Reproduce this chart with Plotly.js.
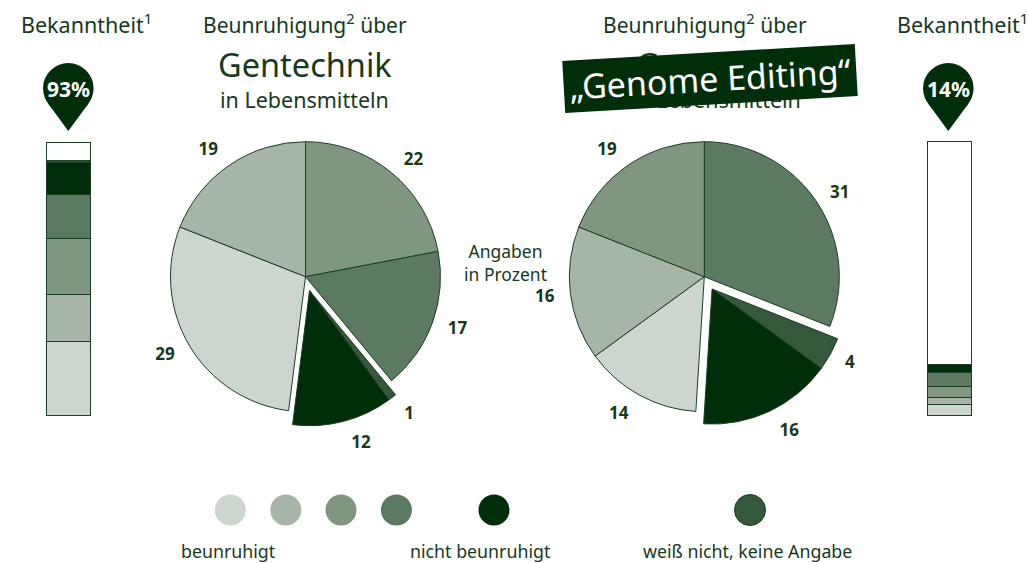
<!DOCTYPE html>
<html><head><meta charset="utf-8">
<script src="https://cdn.plot.ly/plotly-3.0.1.min.js"></script>
<style>body{margin:0;background:#fff}</style></head>
<body><div id="chart" style="width:1029px;height:563px"></div>
<script>
// ---- data ----
const categories = ['beunruhigt 1','beunruhigt 2','beunruhigt 3','beunruhigt 4','nicht beunruhigt','weiß nicht, keine Angabe','nicht bekannt'];
const catColors  = ['#ccd6cf','#a7b5a8','#7f9680','#5c7a61','#002e08','#35573a','#ffffff'];
// pies, clockwise from 12 o'clock (category indices + values in percent)
const pie1Order  = [2,3,5,4,0,1];
const pie1Values = [22,17,1,12,29,19];
const pie2Order  = [3,5,4,0,1,2];
const pie2Values = [31,4,16,14,16,19];
const pulledCats = [4,5];
// awareness bars, stacked from bottom (category order 0..6)
const bar1Values = [27.2,17.2,20.5,15.9,11.8,1.0,6.4];
const bar2Values = [4.1,2.7,4.0,5.2,2.8,0,81.2];
const awareness  = ['93%','14%'];
const legendCats = [0,1,2,3,4,5];
const legendTexts = ['beunruhigt','nicht beunruhigt','weiß nicht, keine Angabe'];

// ---- layout helpers ----
const W = 1029, H = 563;
const FONT = 'Noto Sans, sans-serif';
const TXT = '#15391b';
const LINE = '#1b3f20';
const R = 135;
const RL = 145; // radius of the invisible label ring
const CLEAR = 'rgba(0,0,0,0)';

function pieTraces(values, order, cx, cy, off) {
  const labels = order.map(i => categories[i]);
  const pulled = order.map(i => pulledCats.includes(i));
  const dom = (dx, dy, r) => ({x:[(cx+dx-r)/W,(cx+dx+r)/W], y:[(H-(cy+dy)-r)/H,(H-(cy+dy)+r)/H]});
  const base = {type:'pie', sort:false, direction:'clockwise', rotation:0, labels, values};
  const slices = (show, dx, dy) => Object.assign({}, base, {
    textinfo:'none',
    marker:{colors: order.map((c,k) => show[k] ? catColors[c] : CLEAR),
            line:{color: order.map((c,k) => show[k] ? LINE : CLEAR), width:1}},
    domain: dom(dx, dy, R), hoverinfo:'label+value'
  });
  const ring = (show, dx, dy) => Object.assign({}, base, {
    text: values.map((v,k) => show[k] ? String(v) : ''),
    textinfo:'text', textposition:'outside',
    outsidetextfont:{family:FONT, size:17, color:TXT, weight:'bold'},
    marker:{colors: values.map(() => CLEAR), line:{width:0}},
    domain: dom(dx, dy, RL), hoverinfo:'skip'
  });
  const keep = pulled.map(p => !p);
  return [slices(keep,0,0), slices(pulled,off[0],off[1]), ring(keep,0,0), ring(pulled,off[0],off[1])];
}

const traces = [];
traces.push(...pieTraces(pie1Values, pie1Order, 305.5, 276.7, [4,14]));
traces.push(...pieTraces(pie2Values, pie2Order, 704.3, 276.7, [7.8,12.4]));

[bar1Values, bar2Values].forEach((vals, b) => {
  vals.forEach((v, i) => {
    traces.push({type:'bar', x:[0], y:[v], width:1, name:categories[i],
      xaxis: b ? 'x3':'x2', yaxis: b ? 'y3':'y2',
      marker:{color:catColors[i], line:{color:LINE, width:1}}, hoverinfo:'name+y'});
  });
});

const legX = [230.3,285.8,341,396.4,494,750];
traces.push({type:'scatter', mode:'markers', x:legX, y:legX.map(()=>510),
  text: legendCats.map(i=>categories[i]), hoverinfo:'text',
  marker:{size:31, color:legendCats.map(i=>catColors[i]),
    line:{color:LINE, width:legendCats.map(i=> i===5 ? 1 : 0)}}});

const ann = (text, x, y, size, extra) => Object.assign({text, x, y, xref:'x', yref:'y',
  showarrow:false, xanchor:'center', yanchor:'middle',
  font:{family:FONT, size, color:TXT}}, extra||{});
const SUP = s => `<sup style="font-size:60%">${s}</sup>`;

const annotations = [
  ann('Bekanntheit' + SUP('1'), 86, 23, 21.5),
  ann('Beunruhigung' + SUP('2') + ' über', 305, 23, 21),
  ann('Gentechnik', 305, 64, 32.5),
  ann('in Lebensmitteln', 304, 99, 21.5),
  ann('Beunruhigung' + SUP('2') + ' über', 705, 23, 21),
  ann('Bekanntheit' + SUP('1'), 962, 23, 21.5),
  ann('Gentechnik', 723, 64, 32.5),
  ann('in Lebensmitteln', 716, 99, 21.5),
  ann('„Genome Editing“', 710, 78.5, 34, {font:{family:FONT,size:34,color:'#ffffff'},
      bgcolor:'#002e08', textangle:-3.3, width:290, height:49}),
  ann('Angaben<br>in Prozent', 505, 262, 17.5),
  ann(awareness[0], 68, 89, 21, {font:{family:FONT,size:21,color:'#ffffff',weight:'bold'}}),
  ann(awareness[1], 948, 89, 21, {font:{family:FONT,size:21,color:'#ffffff',weight:'bold'}}),
  ann(legendTexts[0], 228, 551, 17.8),
  ann(legendTexts[1], 480, 551, 17.8),
  ann(legendTexts[2], 747, 551, 17.8)
];

function pin(cx) {
  const cy = 88.3, r = 25.3, tip = 131;
  return [
    {type:'circle', xref:'x', yref:'y', x0:cx-r, x1:cx+r, y0:cy-r, y1:cy+r,
     fillcolor:'#002e08', line:{width:0}, layer:'above'},
    {type:'path', xref:'x', yref:'y', path:`M ${cx-20.4} ${cy+15} L ${cx+20.4} ${cy+15} L ${cx} ${tip} Z`,
     fillcolor:'#002e08', line:{width:0}, layer:'above'}
  ];
}

// bar subplot: bar box in pixels plus a small pad so the outline is not clipped
function barAxes(x0, x1, yTop, yBot, pad) {
  const ux = (x1 - x0), uy = (yBot - yTop) / 100;
  const ex = pad / ux, ey = pad / uy;
  return [
    {range:[-0.5-ex, 0.5+ex], domain:[(x0-pad)/W, (x1+pad)/W]},
    {range:[-ey, 100+ey], domain:[(H-yBot-pad)/H, (H-yTop+pad)/H]}
  ];
}
const [bx1, by1] = barAxes(46.7, 90.7, 143.3, 416.7, 3);
const [bx2, by2] = barAxes(928.3, 972, 142.3, 416.7, 3);

const hidden = {visible:false, fixedrange:true};
const layout = {
  width:W, height:H, margin:{l:0,r:0,t:0,b:0},
  paper_bgcolor:'#fff', plot_bgcolor:'rgba(0,0,0,0)',
  showlegend:false, barmode:'stack', bargap:0,
  xaxis: Object.assign({range:[0,W], domain:[0,1]}, hidden),
  yaxis: Object.assign({range:[H,0], domain:[0,1]}, hidden),
  xaxis2: Object.assign(bx1, {anchor:'y2'}, hidden),
  yaxis2: Object.assign(by1, {anchor:'x2'}, hidden),
  xaxis3: Object.assign(bx2, {anchor:'y3'}, hidden),
  yaxis3: Object.assign(by2, {anchor:'x3'}, hidden),
  shapes: [...pin(68.3), ...pin(948.3)],
  annotations
};
Plotly.newPlot('chart', traces, layout, {displayModeBar:false});
</script></body></html>
